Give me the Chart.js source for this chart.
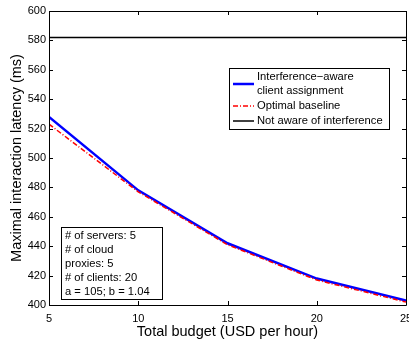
<!DOCTYPE html>
<html>
<head>
<meta charset="utf-8">
<script src="https://cdn.jsdelivr.net/npm/chart.js@4.4.1/dist/chart.umd.min.js"></script>
<style>
  html, body { margin: 0; padding: 0; background: #fff; }
  #wrap { width: 409px; height: 341px; }
</style>
</head>
<body>
<div id="wrap"><canvas id="c" width="409" height="341"></canvas></div>
<script>
// Budget levels (USD per hour)
const budgets = [5, 10, 15, 20, 25];
// Maximal interaction latency (ms) for each strategy
const awareLatency = [528, 478, 442, 418, 403];
const optimalLatency = [523, 477, 441, 417, 402];
const unawareLatency = [582, 582, 582, 582, 582];
// Axis ticks
const xTicks = [5, 10, 15, 20, 25];
const yTicks = [400, 420, 440, 460, 480, 500, 520, 540, 560, 580, 600];
// Legend rows and the parameter note
const legendLabels = [['Interference\u2212aware', 'client assignment'], ['Optimal baseline'], ['Not aware of interference']];
const noteLines = ['# of servers: 5', '# of cloud', 'proxies: 5', '# of clients: 20', 'a = 105; b = 1.04'];

const FONT = '"Liberation Sans", Arial, Helvetica, sans-serif';

function pts(vals) { return budgets.map((b, i) => ({ x: b, y: vals[i] })); }

// Box frame with inward ticks on all four sides
const framePlugin = {
  id: 'frame',
  afterDatasetsDraw(chart) {
    const { ctx, chartArea: a, scales: { x, y } } = chart;
    ctx.save();
    ctx.strokeStyle = '#000';
    ctx.lineWidth = 1;
    ctx.beginPath();
    ctx.rect(Math.round(a.left) + 0.5, Math.round(a.top) + 0.5, Math.round(a.right - a.left), Math.round(a.bottom - a.top));
    ctx.stroke();
    const tl = 4;
    ctx.beginPath();
    xTicks.forEach(v => {
      const px = Math.round(x.getPixelForValue(v)) + 0.5;
      ctx.moveTo(px, a.bottom); ctx.lineTo(px, a.bottom - tl);
      ctx.moveTo(px, a.top); ctx.lineTo(px, a.top + tl);
    });
    yTicks.forEach(v => {
      const py = Math.round(y.getPixelForValue(v)) + 0.5;
      ctx.moveTo(a.left, py); ctx.lineTo(a.left + tl, py);
      ctx.moveTo(a.right, py); ctx.lineTo(a.right - tl, py);
    });
    ctx.stroke();
    ctx.restore();
  }
};

// Legend box in the upper right and the parameter note in the lower left
const boxesPlugin = {
  id: 'boxes',
  afterDraw(chart) {
    const ctx = chart.ctx;
    ctx.save();
    ctx.font = '11.2px ' + FONT;
    ctx.textBaseline = 'middle';
    ctx.textAlign = 'left';

    // legend
    const lx = 229, ly = 68, lw = 160, lh = 61;
    ctx.fillStyle = '#fff';
    ctx.fillRect(lx, ly, lw, lh);
    ctx.strokeStyle = '#000';
    ctx.lineWidth = 1;
    ctx.strokeRect(lx + 0.5, ly + 0.5, lw, lh);
    const rowY = [[77, 91], [106], [121]];
    const sampleY = [84, 106, 121];
    chart.data.datasets.forEach((ds, i) => {
      ctx.beginPath();
      ctx.strokeStyle = ds.borderColor;
      ctx.lineWidth = ds.borderWidth;
      ctx.setLineDash(ds.borderDash || []);
      ctx.moveTo(233, sampleY[i]);
      ctx.lineTo(254, sampleY[i]);
      ctx.stroke();
      ctx.setLineDash([]);
      ctx.fillStyle = '#000';
      legendLabels[i].forEach((t, k) => ctx.fillText(t, 257, rowY[i][k]));
    });

    // parameter note
    const nx = 61, ny = 227, nw = 101, nh = 72;
    ctx.fillStyle = '#fff';
    ctx.fillRect(nx, ny, nw, nh);
    ctx.strokeStyle = '#000';
    ctx.lineWidth = 1;
    ctx.strokeRect(nx + 0.5, ny + 0.5, nw, nh);
    ctx.fillStyle = '#000';
    noteLines.forEach((t, k) => ctx.fillText(t, 65, 236 + k * 14));
    ctx.restore();
  }
};

new Chart(document.getElementById('c'), {
  type: 'line',
  data: {
    datasets: [
      { label: 'Interference-aware client assignment', data: pts(awareLatency), borderColor: '#0000ff', borderWidth: 2.5, pointRadius: 0, order: 2 },
      { label: 'Optimal baseline', data: pts(optimalLatency), borderColor: '#ff0000', borderWidth: 1.5, borderDash: [5, 2, 1, 2], pointRadius: 0, order: 1 },
      { label: 'Not aware of interference', data: pts(unawareLatency), borderColor: '#000000', borderWidth: 1.5, pointRadius: 0, order: 0 }
    ]
  },
  options: {
    responsive: false,
    animation: false,
    devicePixelRatio: 1,
    layout: { padding: { left: 0, right: 3, top: 11, bottom: 0 } },
    plugins: { legend: { display: false }, tooltip: { enabled: false } },
    scales: {
      x: {
        type: 'linear', min: 5, max: 25,
        afterBuildTicks(s) { s.ticks = xTicks.map(v => ({ value: v })); },
        afterFit(s) { s.height = 36; s.paddingLeft = 0; s.paddingRight = 0; },
        grid: { display: false, drawTicks: false },
        border: { display: false },
        ticks: { color: '#000', font: { family: FONT, size: 11 }, padding: 7, maxRotation: 0, autoSkip: false },
        title: { display: true, text: 'Total budget (USD per hour)', color: '#000', font: { family: FONT, size: 14.5 }, padding: { top: 0, bottom: 0 } }
      },
      y: {
        type: 'linear', min: 400, max: 600,
        afterBuildTicks(s) { s.ticks = yTicks.map(v => ({ value: v })); },
        afterFit(s) { s.width = 49; s.paddingTop = 0; s.paddingBottom = 0; },
        grid: { display: false, drawTicks: false },
        border: { display: false },
        ticks: { color: '#000', font: { family: FONT, size: 11 }, padding: 3, autoSkip: false },
        title: { display: true, text: 'Maximal interaction latency (ms)', color: '#000', font: { family: FONT, size: 14.5 }, padding: { top: 8, bottom: 0 } }
      }
    }
  },
  plugins: [framePlugin, boxesPlugin]
});
</script>
</body>
</html>
